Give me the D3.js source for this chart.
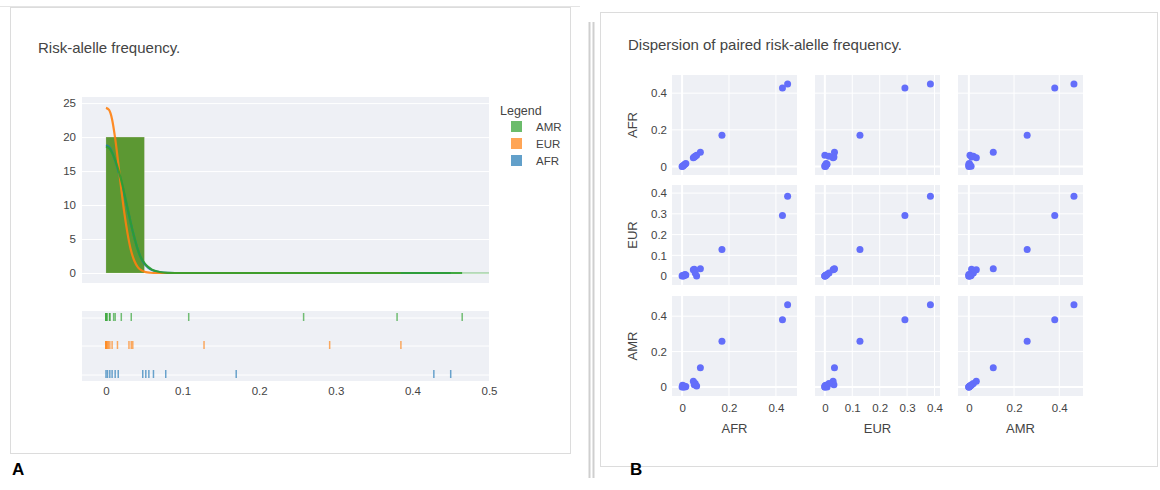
<!DOCTYPE html>
<html>
<head>
<meta charset="utf-8">
<style>
body { margin: 0; background: #fff; }
svg text { font-family: "Liberation Sans", Arial, sans-serif; fill: #444; }
</style>
</head>
<body>
<svg width="1160" height="490"></svg>
<script src="https://d3js.org/d3.v7.min.js"></script>
<script>
// populations and risk-allele frequencies, one value per variant
var populations = ["AFR", "EUR", "AMR"];
var afr = [0.450, 0.428, 0.170, 0.078, 0.048, 0.052, 0.062, 0.056, 0.016, 0.012, 0.008, 0.005, 0.002, 0.000];
var eur = [0.385, 0.292, 0.128, 0.035, 0.030, 0.033, 0.000, 0.015, 0.005, 0.008, 0.002, 0.000, 0.003, 0.000];
var amr = [0.465, 0.380, 0.258, 0.108, 0.033, 0.012, 0.005, 0.020, 0.002, 0.000, 0.005, 0.000, 0.010, 0.000];

// histogram (one visible bin) and density curves
var binEdges = [0, 0.05];
var histAfr = [20], histEur = [20], histAmr = [20];
var kdeXEur = [0, 0.004, 0.008, 0.012, 0.016, 0.02, 0.024, 0.028, 0.032, 0.037, 0.042, 0.047, 0.052, 0.058, 0.065, 0.385];
var kdeEur  = [24.3, 24.0, 22.6, 19.8, 16.2, 12.3, 8.8, 5.9, 3.6, 1.8, 0.8, 0.35, 0.12, 0.04, 0, 0];
var kdeX    = [0, 0.005, 0.01, 0.015, 0.02, 0.025, 0.03, 0.035, 0.04, 0.045, 0.05, 0.055, 0.06, 0.07, 0.08, 0.1];
var kdeAfr  = [18.8, 18.4, 17.2, 15.5, 13.4, 11.0, 8.5, 6.1, 4.0, 2.4, 1.4, 0.8, 0.45, 0.12, 0.03, 0];
var kdeAmr  = [18.6, 18.3, 17.2, 15.6, 13.6, 11.2, 8.6, 6.1, 4.0, 2.4, 1.5, 0.9, 0.5, 0.15, 0.03, 0];

var histYTicks = [0, 5, 10, 15, 20, 25];
var histXTicks = [0, 0.1, 0.2, 0.3, 0.4, 0.5];
var ticks02 = [0, 0.2, 0.4];
var ticks01 = [0, 0.1, 0.2, 0.3, 0.4];

var colors = { AFR: "#1f77b4", EUR: "#ff7f0e", AMR: "#2ca02c" };
var values = { AFR: afr, EUR: eur, AMR: amr };
var hists = { AFR: histAfr, EUR: histEur, AMR: histAmr };
var kdes = { AFR: [kdeX, kdeAfr], EUR: [kdeXEur, kdeEur], AMR: [kdeX, kdeAmr] };
var ends = { AFR: d3.max(afr), EUR: d3.max(eur), AMR: d3.max(amr) };

var svg = d3.select("svg");
var bg = "#eef0f5";
var tickFont = "11.5px";

// panels
svg.append("rect").attr("x", 10.5).attr("y", 7.5).attr("width", 560).attr("height", 446)
   .attr("fill", "none").attr("stroke", "#dcdcdc");
svg.append("rect").attr("x", 600.5).attr("y", 12.5).attr("width", 557).attr("height", 454)
   .attr("fill", "none").attr("stroke", "#dcdcdc");
svg.append("line").attr("x1", 0).attr("x2", 580).attr("y1", 6.5).attr("y2", 6.5).attr("stroke", "#e4e4e4");
[589.5, 593.5].forEach(function(x) {
  svg.append("line").attr("x1", x).attr("x2", x).attr("y1", 22).attr("y2", 478)
     .attr("stroke", "#cfcfcf").attr("stroke-width", 2);
});
svg.append("text").attr("x", 12).attr("y", 475).style("font-size", "17px").style("font-weight", "bold")
   .style("fill", "#000").text("A");
svg.append("text").attr("x", 630).attr("y", 475).style("font-size", "17px").style("font-weight", "bold")
   .style("fill", "#000").text("B");

// ---------- A: distribution plot ----------
svg.append("text").attr("x", 38).attr("y", 53).style("font-size", "15px").text("Risk-alelle frequency.");

var x = d3.scaleLinear().domain([-0.0313, 0.5]).range([82, 489]);
var y = d3.scaleLinear().domain([-1.47, 25.9]).range([283, 97]);

svg.append("rect").attr("x", 82).attr("y", 97).attr("width", 407).attr("height", 186).attr("fill", bg);
var gy = svg.append("g").attr("transform", "translate(82,0)")
   .call(d3.axisLeft(y).tickValues(histYTicks).tickSize(-407).tickPadding(6));
gy.select(".domain").remove();
gy.selectAll("line").attr("stroke", "#fff");
gy.selectAll("text").style("font-size", tickFont).style("fill", "#444");

var barG = svg.append("g");
populations.forEach(function(p) {
  barG.selectAll(null).data(hists[p]).enter().append("rect")
    .attr("x", function(d, i) { return x(binEdges[i]); })
    .attr("width", function(d, i) { return x(binEdges[i + 1]) - x(binEdges[i]); })
    .attr("y", function(d) { return y(d); })
    .attr("height", function(d) { return y(0) - y(d); })
    .attr("fill", colors[p]).attr("opacity", 0.7)
    .attr("stroke", "#fff").attr("stroke-opacity", 0.3).attr("stroke-width", 0.5);
});

var line = d3.line().x(function(d) { return x(d[0]); }).y(function(d) { return y(d[1]); })
  .curve(d3.curveMonotoneX);
populations.forEach(function(p) {
  var pts = kdes[p][0].map(function(v, i) { return [v, kdes[p][1][i]]; });
  if (pts[pts.length - 1][0] < ends[p]) pts.push([ends[p], 0]);
  svg.append("path").datum(pts).attr("d", line)
    .attr("fill", "none").attr("stroke", colors[p]).attr("stroke-width", 2.2).attr("stroke-opacity", 0.9);
});
svg.append("line").attr("x1", x(ends.AMR)).attr("x2", 489).attr("y1", y(0)).attr("y2", y(0))
   .attr("stroke", colors.AMR).attr("stroke-opacity", 0.6).attr("stroke-width", 1);

// legend
svg.append("text").attr("x", 500).attr("y", 115).style("font-size", "12.5px").text("Legend");
["AMR", "EUR", "AFR"].forEach(function(p, i) {
  svg.append("rect").attr("x", 511).attr("y", 121 + i * 17).attr("width", 11).attr("height", 11)
     .attr("fill", colors[p]).attr("opacity", 0.7);
  svg.append("text").attr("x", 536).attr("y", 131 + i * 17).style("font-size", tickFont).text(p);
});

// rug
var rugRows = { AMR: 318, EUR: 346, AFR: 375 };
svg.append("rect").attr("x", 82).attr("y", 311).attr("width", 407).attr("height", 70).attr("fill", bg);
populations.forEach(function(p) {
  var ry = rugRows[p];
  svg.append("line").attr("x1", 82).attr("x2", 489).attr("y1", ry).attr("y2", ry).attr("stroke", "#fff");
  svg.append("g").selectAll("line").data(values[p]).enter().append("line")
    .attr("x1", function(d) { return x(d); }).attr("x2", function(d) { return x(d); })
    .attr("y1", ry - 5).attr("y2", ry + 3)
    .attr("stroke", colors[p]).attr("stroke-width", 1.5).attr("stroke-opacity", 0.65);
});
var gx = svg.append("g").attr("transform", "translate(0,381)")
  .call(d3.axisBottom(x).tickValues(histXTicks).tickSize(0).tickPadding(6)
    .tickFormat(function(d) { return d === 0 ? "0" : d3.format(".1f")(d); }));
gx.select(".domain").remove();
gx.selectAll("text").style("font-size", tickFont).style("fill", "#444");

// ---------- B: scatter matrix ----------
svg.append("text").attr("x", 628).attr("y", 50).style("font-size", "15px")
   .text("Dispersion of paired risk-alelle frequency.");

var colX = [672, 815, 958], cellW = 125;
var rowY = [75, 185, 296], cellH = 100;
var colDomain = { AFR: [-0.043, 0.490], EUR: [-0.036, 0.420], AMR: [-0.048, 0.505] };
var rowDomain = { AFR: [-0.046, 0.499], EUR: [-0.043, 0.439], AMR: [-0.051, 0.514] };
var tickSet = { AFR: ticks02, EUR: ticks01, AMR: ticks02 };
var fmt = function(d) { return d === 0 ? "0" : d3.format(".1f")(d); };

populations.forEach(function(rp, ri) {
  var sy = d3.scaleLinear().domain(rowDomain[rp]).range([rowY[ri] + cellH, rowY[ri]]);
  populations.forEach(function(cp, ci) {
    var sx = d3.scaleLinear().domain(colDomain[cp]).range([colX[ci], colX[ci] + cellW]);
    var g = svg.append("g");
    g.append("rect").attr("x", colX[ci]).attr("y", rowY[ri]).attr("width", cellW).attr("height", cellH)
      .attr("fill", bg);
    g.selectAll(".vg").data(tickSet[cp]).enter().append("line")
      .attr("x1", sx).attr("x2", sx).attr("y1", rowY[ri]).attr("y2", rowY[ri] + cellH)
      .attr("stroke", "#fff").attr("stroke-width", function(d) { return d === 0 ? 2 : 1; });
    g.selectAll(".hg").data(tickSet[rp]).enter().append("line")
      .attr("x1", colX[ci]).attr("x2", colX[ci] + cellW).attr("y1", sy).attr("y2", sy)
      .attr("stroke", "#fff").attr("stroke-width", function(d) { return d === 0 ? 2 : 1; });
    g.selectAll("circle").data(values[cp].map(function(v, i) { return [v, values[rp][i]]; }))
      .enter().append("circle")
      .attr("cx", function(d) { return sx(d[0]); }).attr("cy", function(d) { return sy(d[1]); })
      .attr("r", 3.5).attr("fill", "#636efa");
    if (ci === 0) {
      var ay = svg.append("g").attr("transform", "translate(" + colX[0] + ",0)")
        .call(d3.axisLeft(sy).tickValues(tickSet[rp]).tickSize(0).tickPadding(5).tickFormat(fmt));
      ay.select(".domain").remove();
      ay.selectAll("text").style("font-size", tickFont).style("fill", "#444");
    }
    if (ri === 2) {
      var ax = svg.append("g").attr("transform", "translate(0," + (rowY[2] + cellH) + ")")
        .call(d3.axisBottom(sx).tickValues(tickSet[cp]).tickSize(0).tickPadding(8).tickFormat(fmt));
      ax.select(".domain").remove();
      ax.selectAll("text").style("font-size", tickFont).style("fill", "#444");
      svg.append("text").attr("x", colX[ci] + cellW / 2).attr("y", 433).attr("text-anchor", "middle")
        .style("font-size", "13px").text(cp);
    }
  });
  svg.append("text").attr("transform", "translate(637," + (rowY[ri] + cellH / 2) + ") rotate(-90)")
    .attr("text-anchor", "middle").style("font-size", "13px").text(rp);
});
</script>
</body>
</html>
